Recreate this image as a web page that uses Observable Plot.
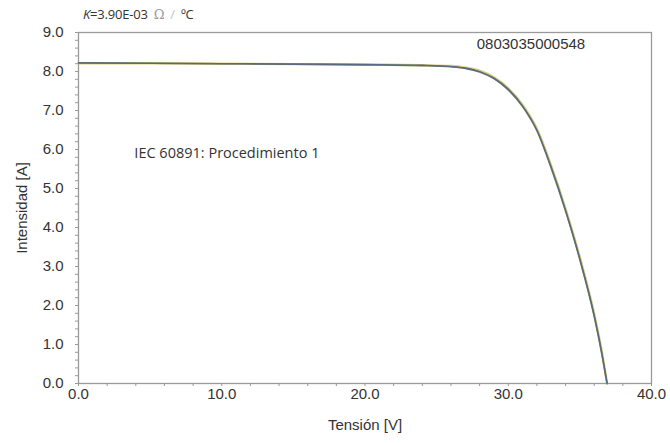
<!DOCTYPE html>
<html>
<head>
<meta charset="utf-8">
<script src="https://cdn.jsdelivr.net/npm/d3@7"></script>
<script src="https://cdn.jsdelivr.net/npm/@observablehq/plot@0.6"></script>
<style>
  body { margin: 0; background: #fff; }
  #wrap { position: relative; width: 670px; height: 443px; }
  #kcoef { position: absolute; left: 83px; top: 5px; font-family: "Open Sans", sans-serif; font-size: 13px; color: #333; letter-spacing: -0.2px; }
  #kcoef .om { font-family: "DejaVu Serif", serif; color: #999; font-size: 13px; margin-left: 6px; }
  #kcoef .sl { color: #c4c4c4; margin: 0 6px; }
  svg text.arial { letter-spacing: 0.6px; }
</style>
</head>
<body>
<div id="wrap"><div id="kcoef"><i>K</i>=3.90E-03<span class="om">Ω</span><span class="sl">/</span>ºC</div></div>
<script>
// Voltage (V) sample points
const voltage = [0, 5, 10, 15, 20, 24, 26, 27, 28, 29, 30, 31, 32, 33, 34, 35, 36, 36.5, 36.9];
// Current (A) for the three overlapping curves
const currentBlue   = [8.22, 8.21, 8.20, 8.19, 8.18, 8.16, 8.13, 8.09, 8.00, 7.83, 7.55, 7.12, 6.50, 5.55, 4.45, 3.20, 1.75, 0.85, 0.00];
const currentYellow = [8.21, 8.21, 8.20, 8.19, 8.18, 8.16, 8.14, 8.10, 8.02, 7.85, 7.57, 7.14, 6.53, 5.58, 4.48, 3.23, 1.78, 0.88, 0.00];
const currentGray   = [8.22, 8.21, 8.20, 8.19, 8.17, 8.15, 8.12, 8.08, 7.99, 7.82, 7.53, 7.10, 6.48, 5.52, 4.42, 3.17, 1.72, 0.82, 0.00];
const seriesNames = ["Curva 1", "Curva 2", "Curva 3"];
const seriesColors = ["#d6c872", "#6a6a58", "#4f6a85"];
const seriesWidths = [2.4, 1.6, 1.3];
const xTicks = [0, 10, 20, 30, 40];
const yTicks = [0, 1, 2, 3, 4, 5, 6, 7, 8, 9];
const serialLabel = "0803035000548";
const procLabel = "IEC 60891: Procedimiento 1";

const rows = [];
[currentYellow, currentGray, currentBlue].forEach((arr, k) => {
  arr.forEach((c, i) => rows.push({series: seriesNames[k], V: voltage[i], I: c}));
});

const arial = '"Liberation Sans", Arial, sans-serif';

const chart = Plot.plot({
  width: 670,
  height: 443,
  marginLeft: 78,
  marginRight: 19,
  marginTop: 32,
  marginBottom: 60,
  style: {fontFamily: arial, fontSize: "15px", color: "#333", background: "white"},
  x: {domain: [0, 40]},
  y: {domain: [0, 9]},
  color: {domain: seriesNames, range: seriesColors},
  marks: [
    Plot.frame({stroke: "#9a9a9a", strokeWidth: 1.3}),
    Plot.axisX({ticks: d3.range(0, 40.01, 2), tickSize: 3, stroke: "#999", text: null, label: null}),
    Plot.axisX({ticks: xTicks, tickSize: 0, tickPadding: 5, tickFormat: d3.format(".1f"), label: "Tensión [V]", labelAnchor: "center", labelArrow: "none", labelOffset: 46, fontSize: 15, fill: "#333", className: "arial"}),
    Plot.axisY({ticks: d3.range(0, 9.01, 0.2), tickSize: 3, stroke: "#999", text: null, label: null}),
    Plot.axisY({ticks: yTicks, tickSize: 0, tickPadding: 15, tickFormat: d3.format(".1f"), label: "Intensidad [A]", labelAnchor: "center", labelArrow: "none", labelOffset: 62, fontSize: 15, fill: "#333", className: "arial"}),
    ...seriesNames.map((s, k) =>
      Plot.line(rows.filter(r => r.series === s), {x: "V", y: "I", stroke: "series", strokeWidth: seriesWidths[k], curve: "monotone-x", strokeOpacity: 0.9})
    ),
    Plot.text([serialLabel], {x: 27.8, y: 8.71, text: d => d, textAnchor: "start", fontSize: 15, fill: "#333", fontFamily: arial, className: "arial"}),
    Plot.text([procLabel], {x: 3.9, y: 5.91, text: d => d, textAnchor: "start", fontSize: 14.5, fill: "#333", fontFamily: '"Open Sans", sans-serif'})
  ]
});
document.getElementById("wrap").prepend(chart);
</script>
</body>
</html>
